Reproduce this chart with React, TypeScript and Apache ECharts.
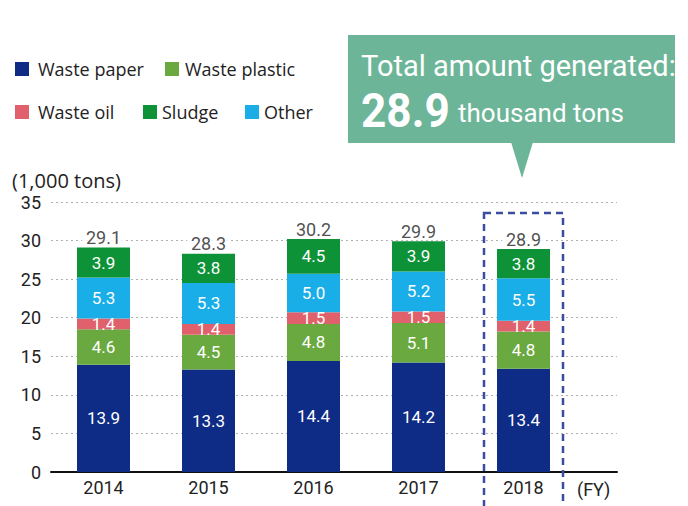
import React, { useEffect, useRef } from 'react';
import * as echarts from 'echarts';

const years = ['2014', '2015', '2016', '2017', '2018'];
const wastePaper = [13.9, 13.3, 14.4, 14.2, 13.4];
const wastePlastic = [4.6, 4.5, 4.8, 5.1, 4.8];
const wasteOil = [1.4, 1.4, 1.5, 1.5, 1.4];
const other = [5.3, 5.3, 5.0, 5.2, 5.5];
const sludge = [3.9, 3.8, 4.5, 3.9, 3.8];
const totals = [29.1, 28.3, 30.2, 29.9, 28.9];
const highlightTotal = '28.9';

const COND = "Roboto, 'Liberation Sans', sans-serif";
const SANS = "'Open Sans', 'Noto Sans', sans-serif";

const seriesDefs = [
  { name: 'Waste paper', data: wastePaper, color: '#0e2b86' },
  { name: 'Waste plastic', data: wastePlastic, color: '#6aa93f' },
  { name: 'Waste oil', data: wasteOil, color: '#e0606b' },
  { name: 'Other', data: other, color: '#19aee8' },
  { name: 'Sludge', data: sludge, color: '#0e9238' },
];

const legendDefs = [
  { name: 'Waste paper', left: 15, top: 60, pad: 4 },
  { name: 'Waste plastic', left: 165, top: 60, pad: 1 },
  { name: 'Waste oil', left: 15, top: 103, pad: 4 },
  { name: 'Sludge', left: 143, top: 103, pad: 0 },
  { name: 'Other', left: 245, top: 103, pad: 0 },
];

const gridLine = { lineStyle: { color: '#b0b0b0', type: [2, 3], width: 1 } };

export default function App() {
  const ref = useRef<HTMLDivElement>(null);
  useEffect(() => {
    if (!ref.current) return;
    const chart = echarts.init(ref.current, null, { renderer: 'svg' });
    const option: any = {
      animation: false,
      backgroundColor: '#fff',
      grid: [
        { left: 51, width: 525, top: 202, bottom: 34 },
        { left: 576, right: 71, top: 202, bottom: 34 },
      ],
      legend: legendDefs.map((l) => ({
        data: [l.name],
        left: l.left,
        top: l.top,
        padding: 0,
        itemWidth: 14,
        itemHeight: 14,
        icon: 'rect',
        selectedMode: false,
        textStyle: { fontSize: 18, fontFamily: SANS, color: '#222', padding: [0, 0, 0, l.pad] },
      })),
      xAxis: [
        {
          type: 'category',
          data: years,
          gridIndex: 0,
          axisTick: { show: false },
          axisLine: { lineStyle: { color: '#111', width: 2 } },
          axisLabel: { fontSize: 18, fontFamily: COND, color: '#222', margin: 6 },
        },
        {
          type: 'category',
          data: [''],
          gridIndex: 1,
          axisTick: { show: false },
          axisLabel: { show: false },
          axisLine: { lineStyle: { color: '#111', width: 2 } },
        },
      ],
      yAxis: [
        {
          type: 'value',
          gridIndex: 0,
          min: 0,
          max: 35,
          interval: 5,
          axisLine: { show: false },
          axisTick: { show: false },
          splitLine: gridLine,
          axisLabel: { fontSize: 18, fontFamily: COND, color: '#222', margin: 10 },
        },
        {
          type: 'value',
          gridIndex: 1,
          min: 0,
          max: 35,
          interval: 5,
          axisLine: { show: false },
          axisTick: { show: false },
          axisLabel: { show: false },
          splitLine: gridLine,
        },
      ],
      series: [
        ...seriesDefs.map((s) => ({
          name: s.name,
          type: 'bar',
          stack: 'total',
          barWidth: 53,
          itemStyle: { color: s.color },
          data: s.data,
          label: {
            show: true,
            position: 'inside',
            color: '#fff',
            fontSize: 17,
            fontFamily: COND,
            formatter: (p: any) => Number(p.value).toFixed(1),
          },
        })),
        {
          name: 'Total',
          type: 'scatter',
          symbolSize: 0,
          z: 10,
          data: totals,
          label: {
            show: true,
            position: 'top',
            distance: 1,
            color: '#222',
            fontSize: 18,
            fontFamily: COND,
            backgroundColor: '#fff',
            padding: [0, 4],
            formatter: (p: any) => Number(p.value).toFixed(1),
          },
        },
      ],
      graphic: [
        {
          type: 'text',
          left: 12,
          top: 170,
          style: { text: '(1,000 tons)', font: `20px ${SANS}`, fill: '#222' },
        },
        {
          type: 'text',
          left: 577,
          top: 480,
          style: { text: '(FY)', font: `18px ${COND}`, fill: '#222' },
        },
        {
          type: 'rect',
          shape: { x: 484, y: 213, width: 79, height: 320 },
          style: { fill: 'none', stroke: '#3a4da2', lineWidth: 2.5, lineDash: [7, 5] },
          z: 20,
        },
        {
          type: 'rect',
          shape: { x: 348, y: 35, width: 327, height: 108 },
          style: { fill: '#6db598' },
          z: 20,
        },
        {
          type: 'polygon',
          shape: { points: [[511, 142], [533, 142], [522, 178]] },
          style: { fill: '#6db598' },
          z: 20,
        },
        {
          type: 'text',
          x: 361,
          y: 66,
          style: {
            text: 'Total amount generated:',
            font: `29px Roboto, sans-serif`,
            fill: '#fff',
            textVerticalAlign: 'middle',
          },
          z: 21,
        },
        {
          type: 'text',
          x: 361,
          y: 110,
          scaleX: 0.92,
          style: {
            text: highlightTotal,
            font: `bold 48px Roboto, sans-serif`,
            fill: '#fff',
            textVerticalAlign: 'middle',
          },
          z: 21,
        },
        {
          type: 'text',
          x: 458,
          y: 113,
          style: {
            text: 'thousand tons',
            font: `26px Roboto, sans-serif`,
            fill: '#fff',
            textVerticalAlign: 'middle',
          },
          z: 21,
        },
      ],
    };
    chart.setOption(option);
    return () => chart.dispose();
  }, []);
  return (
    <div
      ref={ref}
      style={{ position: 'absolute', left: 0, top: 0, width: 688, height: 506 }}
    />
  );
}
